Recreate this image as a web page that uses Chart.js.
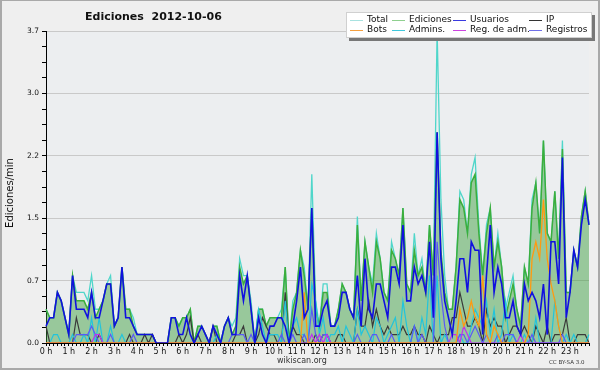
<!DOCTYPE html>
<html>
<head>
<meta charset="utf-8">
<script src="https://cdn.jsdelivr.net/npm/chart.js@4"></script>
<style>
  body { margin: 0; background: #efefef; }
  #wrap { position: relative; width: 600px; height: 370px; background: #efefef; font-family: "DejaVu Sans", sans-serif; overflow: hidden; }
  #wrap canvas { position: absolute; left: 0; top: 0; }
  .txt { position: absolute; white-space: pre; color: #111; line-height: 1; }
  #frame { position: absolute; left: 0; top: 0; width: 600px; height: 370px; box-sizing: border-box; border: 2px solid #a9a9a9; border-top-width: 1px; pointer-events: none; }
  #legend { position: absolute; left: 346px; top: 12px; width: 246px; height: 26px; background: #fff; border: 1px solid #d0d0d0; box-sizing: border-box; box-shadow: 3px 3px 0 #777; }
  .lg { position: absolute; font-size: 9px; color: #111; white-space: pre; line-height: 1; }
  .sw { position: absolute; width: 13px; height: 1px; }
</style>
</head>
<body>
<div id="wrap">
  <canvas id="chart" width="600" height="370"></canvas>
  <div class="txt" style="left:85px; top:11px; font-size:11px; font-weight:bold;">Ediciones  2012-10-06</div>
  <div class="txt" style="left:-25px; top:188px; font-size:10px; transform: rotate(-90deg); width:70px; text-align:center;">Ediciones/min</div>
  <div id="legend"></div>
  <div class="txt" style="left:277px; top:357px; font-size:8px; color:#333;">wikiscan.org</div>
  <div class="txt" style="left:549px; top:360px; font-size:5.5px; color:#333;">CC BY-SA 3.0</div>
  <div id="frame"></div>
</div>
<script>
// edits per minute, one value per 10-minute slot (6 per hour, 144 slots)
var total = [
  0.4,0.3,0.3,0.6,0.5,0.3,  0.1,0.8,0.6,0.6,0.6,0.5,  0.8,0.4,0.4,0.5,0.7,0.8,  0.2,0.3,0.9,0.4,0.4,0.3,
  0.1,0.1,0.1,0.1,0.1,0.0,  0.0,0.0,0.0,0.3,0.3,0.2,  0.3,0.3,0.4,0.0,0.2,0.2,  0.1,0.0,0.2,0.2,0.0,0.2,
  0.3,0.2,0.3,1.0,0.8,0.8,  0.5,0.0,0.4,0.4,0.2,0.3,  0.3,0.3,0.4,0.9,0.0,0.5,  0.6,1.1,0.9,0.4,2.0,0.5,
  0.2,0.7,0.7,0.2,0.2,0.4,  0.7,0.6,0.4,0.3,1.5,0.5,  1.2,0.9,0.7,1.3,1.0,0.6,  0.5,1.2,1.0,0.8,1.6,0.7,
  0.6,1.3,0.8,1.0,0.6,1.4,  0.8,3.7,1.7,0.8,0.4,0.4,  0.9,1.8,1.7,1.3,2.0,2.2,  1.4,0.8,1.4,1.6,0.9,1.3,
  0.9,0.4,0.6,0.8,0.4,0.2,  0.9,0.7,1.7,1.9,1.3,2.4,  1.3,1.2,1.8,1.0,2.4,0.6,  0.6,1.1,0.9,1.5,1.8,1.4
];
var ediciones = [
  0.4,0.3,0.3,0.6,0.5,0.3,  0.1,0.8,0.5,0.5,0.5,0.4,  0.6,0.3,0.4,0.5,0.7,0.7,  0.2,0.3,0.9,0.4,0.4,0.2,
  0.1,0.1,0.1,0.1,0.1,0.0,  0.0,0.0,0.0,0.3,0.3,0.2,  0.3,0.3,0.4,0.0,0.2,0.2,  0.1,0.0,0.2,0.2,0.0,0.2,
  0.3,0.1,0.2,0.9,0.7,0.8,  0.4,0.0,0.4,0.4,0.2,0.3,  0.3,0.3,0.3,0.9,0.0,0.4,  0.6,1.1,0.8,0.4,1.6,0.4,
  0.2,0.6,0.6,0.2,0.2,0.4,  0.7,0.6,0.4,0.3,1.4,0.5,  1.2,0.9,0.6,1.2,1.0,0.6,  0.5,1.1,1.0,0.8,1.6,0.7,
  0.6,1.1,0.8,0.9,0.6,1.4,  0.8,2.5,1.1,0.6,0.4,0.4,  0.9,1.7,1.6,1.3,1.9,2.0,  1.3,0.8,1.3,1.6,0.9,1.2,
  0.9,0.3,0.5,0.7,0.4,0.2,  0.9,0.7,1.6,1.9,1.3,2.4,  1.3,1.2,1.8,1.0,2.3,0.6,  0.6,1.1,0.9,1.5,1.8,1.4
];
var usuarios = [
  0.2,0.3,0.3,0.6,0.5,0.3,  0.1,0.8,0.4,0.4,0.4,0.3,  0.6,0.3,0.3,0.5,0.7,0.7,  0.2,0.3,0.9,0.3,0.3,0.2,
  0.1,0.1,0.1,0.1,0.1,0.0,  0.0,0.0,0.0,0.3,0.3,0.1,  0.1,0.3,0.1,0.0,0.1,0.2,  0.1,0.0,0.2,0.1,0.0,0.2,
  0.3,0.1,0.1,0.8,0.5,0.8,  0.4,0.0,0.3,0.1,0.0,0.2,  0.2,0.3,0.3,0.2,0.0,0.2,  0.5,0.9,0.3,0.4,1.6,0.2,
  0.2,0.4,0.5,0.2,0.2,0.3,  0.6,0.6,0.4,0.3,0.8,0.2,  1.0,0.4,0.3,0.7,0.7,0.5,  0.3,0.9,0.9,0.7,1.4,0.5,
  0.5,0.9,0.7,0.8,0.6,1.2,  0.3,2.5,1.0,0.5,0.3,0.1,  0.5,1.0,1.0,0.6,1.2,1.1,  1.1,0.1,0.8,1.4,0.6,0.9,
  0.7,0.3,0.3,0.5,0.2,0.1,  0.7,0.5,0.6,0.5,0.3,0.7,  0.1,1.2,1.2,0.7,2.2,0.3,  0.6,1.1,0.9,1.4,1.7,1.4
];
var ip = [
  0.2,0,0,0,0,0,  0,0,0.3,0.1,0.1,0.1,  0,0,0.1,0,0,0,  0,0,0,0,0.1,0,
  0,0,0.1,0,0.1,0,  0,0,0,0,0,0.1,  0,0.1,0.3,0,0.1,0,  0,0,0.2,0,0,0,
  0,0,0.1,0.1,0.2,0,  0,0,0.1,0.3,0.2,0.1,  0.1,0,0,0.6,0,0.2,  0.1,0.1,0,0,0,0.1,
  0,0.1,0.1,0,0,0.1,  0.1,0,0,0,0.4,0.2,  0.2,0.5,0.2,0.4,0.2,0.1,  0.2,0.1,0.1,0.1,0.2,0.1,
  0.1,0.2,0.1,0.1,0,0.2,  0.1,0,0.1,0.1,0.1,0.3,  0.3,0.6,0.4,0.2,0.2,0.3,  0.2,0,0.4,0.2,0.3,0.2,
  0.2,0,0.1,0.2,0.2,0.1,  0.2,0.1,0,0.2,0.1,0,  0.2,0,0.1,0.1,0.1,0.3,  0,0,0.1,0.1,0.1,0
];
var bots = [
  0,0,0,0,0,0,  0,0,0,0,0,0,  0,0,0,0,0,0,  0,0,0,0,0,0,
  0,0,0,0,0,0,  0,0,0,0,0,0,  0,0,0,0,0,0,  0,0,0,0,0,0,
  0,0,0,0,0,0,  0,0,0,0,0,0,  0,0,0,0,0,0,  0,0,0.6,0,0,0,
  0,0,0,0,0,0,  0,0,0,0,0,0,  0,0,0,0,0,0,  0,0,0,0,0,0,
  0,0,0,0,0,0,  0,0,0,0,0,0,  0,0.4,0.2,0.3,0.5,0.3,  0.2,0.8,0.1,0,0.2,0.1,
  0,0,0,0,0,0,  0,0.1,1.0,1.2,1.0,1.7,  1.0,0.7,0.5,0.2,0,0,  0,0,0,0,0,0
];
var admins = [
  0,0,0.1,0.1,0,0,  0,0.1,0,0,0.1,0,  0.3,0,0.3,0,0,0.2,  0,0,0.1,0,0,0,
  0,0,0,0,0,0,  0,0,0,0,0,0,  0,0,0,0,0,0,  0,0,0,0.1,0,0,
  0,0,0,0,0,0,  0,0,0.4,0.2,0,0.1,  0.1,0.1,0,0.5,0,0.2,  0.3,0.1,0.1,0,0.7,0.5,
  0.1,0.3,0,0.1,0.1,0.2,  0,0.2,0.1,0,0.4,0.1,  0.2,0.1,0,0.3,0.2,0,  0.1,0.2,0.3,0,0.5,0.2,
  0,0.2,0,0.3,0.1,0.8,  0,0.8,0,0.1,0,0,  0,0.1,0,0,0.2,0.4,  0.3,0.2,0.5,0.1,0.4,0,
  0.1,0.5,0,0.1,0,0,  0.1,0,0,0.3,0,0,  0,0,0.5,0.2,0,0.1,  0,0.1,0,0,0,0.1
];
var regAdm = [
  0,0,0,0,0,0,  0,0,0,0,0,0,  0,0.1,0.1,0,0,0,  0,0,0,0,0,0,
  0,0,0,0,0,0,  0,0,0,0,0,0,  0,0,0,0,0,0,  0,0,0,0,0,0,
  0,0,0,0,0,0,  0,0,0,0,0,0,  0,0,0,0,0,0,  0,0,0,0,0.1,0,
  0.1,0,0.1,0,0,0,  0,0,0,0,0,0,  0,0,0,0,0,0,  0,0,0,0,0,0,
  0,0,0,0,0,0,  0,0,0,0,0,0.1,  0.1,0,0.2,0.1,0,0,  0,0,0,0,0,0,
  0,0,0,0,0,0.1,  0,0,0,0,0,0,  0,0,0,0,0,0,  0,0,0,0,0,0
];
var registros = [
  0,0,0,0,0,0,  0,0,0.1,0.1,0.1,0.1,  0.2,0.1,0,0,0,0.1,  0,0,0,0,0,0.1,
  0,0,0,0,0,0,  0,0,0,0,0,0,  0,0,0,0,0,0,  0,0,0,0,0,0,
  0,0.1,0.1,0.1,0.1,0,  0.1,0,0,0,0,0,  0,0,0.1,0,0,0.1,  0,0,0.1,0,0.4,0.1,
  0,0.1,0.1,0,0,0,  0,0,0,0,0.1,0,  0,0,0.1,0.1,0,0,  0,0.1,0,0,0,0,
  0,0.2,0,0.1,0,0,  0,1.2,0.6,0.2,0,0,  0,0.1,0.1,0,0.1,0.2,  0.1,0,0.1,0,0,0.1,
  0,0.1,0.1,0.1,0,0,  0,0,0.1,0,0,0,  0,0,0,0,0.1,0,  0,0,0,0,0,0
];

var hourLabels = [];
for (var h = 0; h < 24; h++) hourLabels.push(h + ' h');
var slots = [];
for (var h = 0; h < 24; h++) {
  for (var m = 0; m < 60; m += 10) slots.push(h + ':' + (m < 10 ? '0' : '') + m);
}
var yTickLabels = ['0.0', '0.7', '1.5', '2.2', '3.0', '3.7'];
var yMax = 3.7;
var yMinorPerMajor = 4;

// legend entries: [label, colour], laid out 4 columns x 2 rows
var legendItems = [
  ['Total', '#a8e2e0'], ['Ediciones', '#8fd08f'], ['Usuarios', '#3a3ae0'], ['IP', '#333333'],
  ['Bots', '#f5a040'], ['Admins.', '#40c8dc'], ['Reg. de adm.', '#cc44e0'], ['Registros', '#7070e8']
];

var legend = document.getElementById('legend');
var colLine = [3, 45, 106, 182];
legendItems.forEach(function (it, k) {
  var col = k % 4, row = Math.floor(k / 4);
  var sw = document.createElement('div');
  sw.className = 'sw';
  sw.style.left = colLine[col] + 'px';
  sw.style.top = (7 + row * 10) + 'px';
  sw.style.background = it[1];
  legend.appendChild(sw);
  var t = document.createElement('div');
  t.className = 'lg';
  t.style.left = (colLine[col] + 17) + 'px';
  t.style.top = (2 + row * 10) + 'px';
  t.textContent = it[0];
  legend.appendChild(t);
});

var plotBg = {
  id: 'plotBg',
  beforeDraw: function (chart) {
    var a = chart.chartArea, c = chart.ctx;
    c.save();
    c.fillStyle = '#eceef0';
    c.fillRect(a.left, a.top, a.right - a.left, a.bottom - a.top);
    c.restore();
  }
};

function line(label, data, color, width, order) {
  return { label: label, data: data, borderColor: color, borderWidth: width, pointRadius: 0, tension: 0, fill: false, order: order };
}

var datasets = [
  line('Total', total, '#4fd6ca', 1.3, 8),
  Object.assign(line('Ediciones', ediciones, '#3cae3c', 1.5, 7), { fill: 'origin', backgroundColor: 'rgba(51,153,51,0.45)' }),
  line('IP', ip, '#3a3a3a', 1.2, 6),
  line('Admins.', admins, '#22c4dc', 1.2, 5),
  line('Registros', registros, '#5a5af5', 1.2, 4),
  line('Reg. de adm.', regAdm, '#c030f0', 1.2, 3),
  line('Bots', bots, '#ff9a10', 1.3, 2),
  line('Usuarios', usuarios, '#1010e0', 1.6, 1)
];

new Chart(document.getElementById('chart'), {
  type: 'line',
  data: { labels: slots, datasets: datasets },
  options: {
    responsive: false,
    animation: false,
    events: [],
    layout: { padding: { left: 6, top: 31, right: 11, bottom: 7 } },
    plugins: {
      legend: { display: false },
      tooltip: { enabled: false },
      filler: { drawTime: 'beforeDatasetsDraw' }
    },
    scales: {
      x: {
        type: 'category',
        offset: false,
        grid: { drawOnChartArea: false, drawTicks: true, tickLength: 3, tickColor: '#000' },
        border: { display: true, color: '#000', width: 1 },
        ticks: {
          autoSkip: false, maxRotation: 0, minRotation: 0, padding: 1,
          color: '#111', font: { family: 'DejaVu Sans', size: 8 },
          callback: function (v, idx) { return idx % 6 === 0 ? hourLabels[idx / 6] : ''; }
        },
        afterFit: function (s) { s.height = 20; }
      },
      y: {
        min: 0, max: yMax,
        afterBuildTicks: function (s) {
          var n = (yTickLabels.length - 1) * yMinorPerMajor, t = [];
          for (var k = 0; k <= n; k++) t.push({ value: yMax * k / n });
          s.ticks = t;
        },
        grid: {
          color: function (ctx) { return (ctx.index % yMinorPerMajor === 0 && ctx.index > 0) ? '#c9c9c9' : 'rgba(0,0,0,0)'; },
          tickColor: '#000', tickLength: 4, lineWidth: 1
        },
        border: { display: true, color: '#000', width: 1 },
        ticks: {
          padding: 3, color: '#111', font: { family: 'DejaVu Sans', size: 7.5 },
          callback: function (v, idx) { return idx % yMinorPerMajor === 0 ? yTickLabels[idx / yMinorPerMajor] : ''; }
        },
        afterFit: function (s) { s.width = 40; }
      }
    }
  },
  plugins: [plotBg]
});
</script>
</body>
</html>
